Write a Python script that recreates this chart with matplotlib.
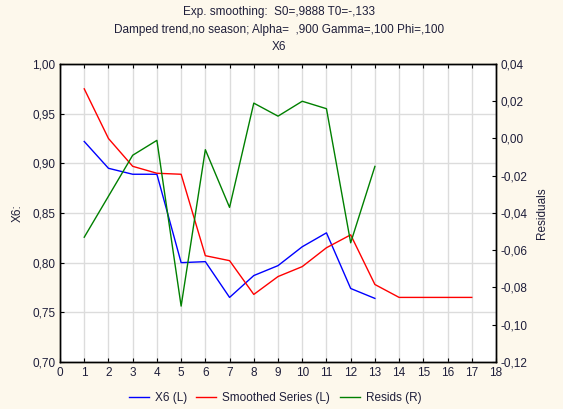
"""Exponential smoothing of X6 with residuals on a secondary axis."""

import numpy
from matplotlib import pyplot
from matplotlib.lines import Line2D
from matplotlib.ticker import FuncFormatter

# Observed series, smoothed series and residuals.
case = [1, 2, 3, 4, 5, 6, 7, 8, 9, 10, 11, 12, 13]
x6 = [0.922, 0.895, 0.889, 0.889, 0.800, 0.801, 0.765, 0.787, 0.797,
      0.816, 0.830, 0.774, 0.764]
smooth_case = [1, 2, 3, 4, 5, 6, 7, 8, 9, 10, 11, 12, 13, 14, 15, 16, 17]
smoothed = [0.975, 0.925, 0.897, 0.890, 0.889, 0.807, 0.802, 0.768, 0.786,
            0.796, 0.815, 0.828, 0.778, 0.765, 0.765, 0.765, 0.765]
resids = [-0.053, -0.031, -0.009, -0.001, -0.090, -0.006, -0.037, 0.019,
          0.012, 0.020, 0.016, -0.056, -0.015]

title_lines = ['Exp. smoothing:  S0=,9888 T0=-,133',
               'Damped trend,no season; Alpha=  ,900 Gamma=,100 Phi=,100',
               'X6']

pyplot.rc('font', family='Liberation Sans', size=8)

bg = '#fdf8ec'
txt = '#1e1e3a'


def comma_fmt(ndec):
    def fmt(v, pos):
        s = f'{v:.{ndec}f}'.replace('.', ',')
        if s.startswith('-') and float(v) == 0:
            s = s[1:]
        return s
    return FuncFormatter(fmt)


fig = pyplot.figure(figsize=(5.63, 4.09), dpi=100, facecolor=bg)
ax = fig.add_axes([0.1066, 0.115, 0.7744, 0.7285])
ax.set_facecolor('white')

ax.plot(case, x6, color='#0000ff', lw=1.0)
ax.plot(smooth_case, smoothed, color='#ff0000', lw=1.0)
ax.set_xlim(0, 18)
ax.set_ylim(0.70, 1.00)
ax.set_xticks(numpy.arange(0, 19))
ax.set_yticks(numpy.arange(0.70, 1.001, 0.05))
ax.yaxis.set_major_formatter(comma_fmt(2))
ax.grid(True, color='#dcdcdc', lw=1.0)
ax.set_axisbelow(True)
ax.tick_params(direction='in', length=3, colors='black', labelcolor=txt,
               top=True, labelsize=8.5)
ax.set_ylabel('X6:', color=txt, labelpad=6, fontsize=8.5)

ax2 = ax.twinx()
ax2.plot(case, resids, color='#008000', lw=1.0)
ax2.set_ylim(-0.12, 0.04)
ax2.set_yticks(numpy.arange(-0.12, 0.041, 0.02))
ax2.yaxis.set_major_formatter(comma_fmt(2))
ax2.tick_params(direction='in', length=3, colors='black', labelcolor=txt,
                labelsize=8.5)
ax2.set_ylabel('Residuals', color=txt, labelpad=6, fontsize=8.5)

for a in (ax, ax2):
    for sp in a.spines.values():
        sp.set_color('black')
        sp.set_linewidth(1.0)

# Three-line heading above the plot.
for i, line in enumerate(title_lines):
    fig.text(279 / 563, 1 - (12 + 17.5 * i) / 409, line, ha='center',
             va='center', color=txt, fontsize=8.5)

handles = [Line2D([], [], color='#0000ff', lw=1.0),
           Line2D([], [], color='#ff0000', lw=1.0),
           Line2D([], [], color='#008000', lw=1.0)]
fig.legend(handles, ['X6 (L)', 'Smoothed Series (L)', 'Resids (R)'],
           loc='center', bbox_to_anchor=(275 / 563, 1 - 398 / 409), ncol=3,
           frameon=False, handlelength=1.7, columnspacing=0.8,
           handletextpad=0.5, labelcolor=txt, fontsize=8.5)

fig.savefig('out.png', dpi=100, facecolor=bg)
